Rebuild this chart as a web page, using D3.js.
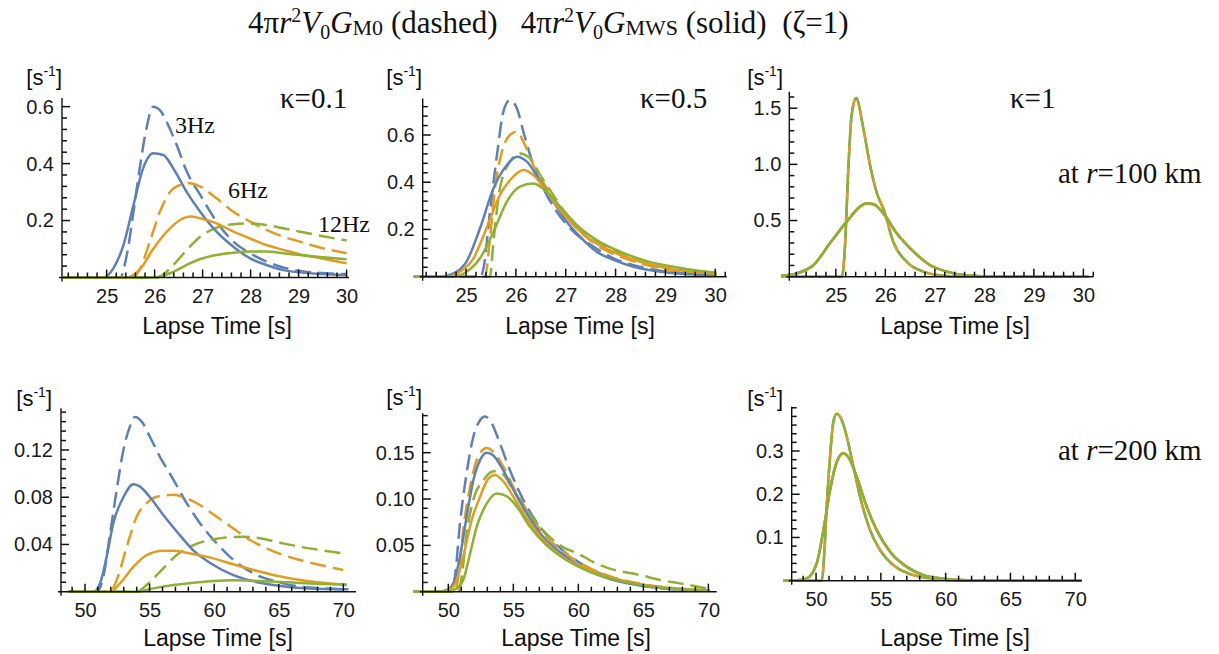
<!DOCTYPE html>
<html lang="en">
<head>
<meta charset="utf-8">
<title>G_M0 vs G_MWS envelopes</title>
<script src="https://d3js.org/d3.v7.min.js"></script>
<style>
  body, html { margin: 0; padding: 0; background: #fff; }
  svg { display: block; }
  .tick text { font: 20px "Liberation Sans", Arial, sans-serif; fill: #1a1a1a; }
  .serif { font-family: "Liberation Serif", "Times New Roman", serif; fill: #111; white-space: pre; }
  .sans { font-family: "Liberation Sans", Arial, sans-serif; fill: #111; }
</style>
</head>
<body>
<svg width="1219" height="654"></svg>
<script>
// ---- data: [lapse time (s), value (1/s)] ----

// kappa = 0.1, r = 100 km
var k01r100_3Hz_M0 = [[24.1,0],[25.28,0],[25.42,0.079],[25.56,0.231],[25.70,0.395],[25.83,0.524],[25.97,0.60],[26.11,0.588],[26.25,0.547],[26.46,0.465],[26.67,0.372],[26.95,0.29],[27.29,0.196],[27.64,0.126],[27.99,0.085],[28.33,0.056],[28.68,0.035],[29.03,0.023],[29.38,0.017],[30.0,0.012]];
var k01r100_3Hz_MWS = [[24.1,0],[24.93,0],[25.14,0.032],[25.35,0.114],[25.56,0.255],[25.76,0.383],[25.97,0.436],[26.18,0.43],[26.39,0.383],[26.67,0.30],[26.95,0.231],[27.29,0.161],[27.64,0.108],[27.99,0.067],[28.33,0.044],[28.68,0.026],[29.03,0.018],[29.38,0.013],[30.0,0.009]];
var k01r100_6Hz_M0 = [[24.1,0],[25.55,0],[25.7,0.032],[25.9,0.126],[26.11,0.231],[26.32,0.30],[26.53,0.325],[26.74,0.331],[26.95,0.319],[27.29,0.278],[27.64,0.231],[27.99,0.196],[28.33,0.167],[28.68,0.143],[29.03,0.126],[29.38,0.108],[30.0,0.085]];
var k01r100_6Hz_MWS = [[24.1,0],[25.42,0],[25.7,0.03],[25.97,0.10],[26.25,0.16],[26.53,0.202],[26.74,0.214],[26.95,0.208],[27.29,0.19],[27.64,0.161],[27.99,0.137],[28.33,0.114],[28.68,0.097],[29.03,0.081],[29.38,0.07],[30.0,0.05]];
var k01r100_12Hz_M0 = [[24.1,0],[26.04,0],[26.39,0.044],[26.67,0.097],[26.95,0.143],[27.29,0.175],[27.64,0.187],[27.99,0.19],[28.33,0.184],[28.68,0.173],[29.03,0.161],[29.38,0.149],[30.0,0.13]];
var k01r100_12Hz_MWS = [[24.1,0],[26.0,0],[26.39,0.02],[26.67,0.044],[26.95,0.065],[27.29,0.079],[27.64,0.087],[27.99,0.091],[28.33,0.091],[28.68,0.085],[29.03,0.079],[29.38,0.073],[30.0,0.064]];

// kappa = 0.5, r = 100 km
var k05r100_3Hz_M0 = [[23.95,0],[25.28,0],[25.35,0.035],[25.48,0.275],[25.62,0.515],[25.75,0.70],[25.88,0.748],[26.02,0.713],[26.15,0.614],[26.35,0.473],[26.55,0.374],[26.82,0.275],[27.16,0.19],[27.56,0.127],[27.96,0.078],[28.49,0.042],[29.03,0.021],[29.56,0.01],[30.03,0.004]];
var k05r100_3Hz_MWS = [[23.95,0],[24.48,0],[24.75,0.014],[25.01,0.064],[25.28,0.205],[25.55,0.374],[25.82,0.473],[26.02,0.508],[26.22,0.487],[26.49,0.402],[26.75,0.318],[27.02,0.233],[27.29,0.169],[27.62,0.106],[27.96,0.071],[28.36,0.042],[28.9,0.021],[29.5,0.01],[30.03,0.004]];
var k05r100_6Hz_M0 = [[23.95,0],[25.38,0],[25.48,0.162],[25.58,0.374],[25.72,0.53],[25.88,0.60],[26.02,0.614],[26.15,0.572],[26.35,0.473],[26.62,0.374],[26.89,0.29],[27.22,0.205],[27.62,0.134],[28.09,0.085],[28.63,0.049],[29.16,0.024],[29.7,0.013],[30.03,0.007]];
var k05r100_6Hz_MWS = [[23.95,0],[24.61,0],[24.88,0.021],[25.15,0.078],[25.41,0.205],[25.68,0.346],[25.95,0.424],[26.15,0.452],[26.35,0.43],[26.62,0.36],[26.89,0.282],[27.22,0.205],[27.62,0.141],[28.09,0.092],[28.63,0.056],[29.16,0.031],[29.7,0.018],[30.03,0.011]];
var k05r100_12Hz_M0 = [[23.95,0],[25.48,0],[25.55,0.148],[25.68,0.374],[25.88,0.487],[26.08,0.522],[26.29,0.50],[26.49,0.43],[26.75,0.346],[27.02,0.261],[27.36,0.19],[27.76,0.134],[28.23,0.085],[28.76,0.049],[29.3,0.028],[29.83,0.014],[30.03,0.01]];
var k05r100_12Hz_MWS = [[23.95,0],[24.75,0],[25.01,0.021],[25.28,0.078],[25.55,0.19],[25.82,0.318],[26.08,0.381],[26.35,0.395],[26.62,0.36],[26.89,0.296],[27.22,0.219],[27.62,0.155],[28.09,0.106],[28.63,0.066],[29.16,0.042],[29.7,0.024],[30.03,0.017]];

// kappa = 1, r = 100 km (all three frequencies coincide)
var k1r100_M0 = [[23.9,0],[25.12,0],[25.19,0.31],[25.25,0.94],[25.32,1.44],[25.41,1.59],[25.56,1.31],[25.69,0.995],[25.82,0.757],[25.98,0.58],[26.16,0.31],[26.43,0.134],[26.77,0.045],[27.17,0.009],[27.58,0],[30.1,0]];
var k1r100_MWS = [[23.9,0.01],[24.21,0.03],[24.55,0.104],[24.88,0.297],[25.22,0.49],[25.49,0.624],[25.62,0.653],[25.76,0.645],[25.96,0.564],[26.23,0.386],[26.57,0.223],[26.9,0.104],[27.24,0.045],[27.58,0.015],[28.25,0],[30.1,0]];

// kappa = 0.1, r = 200 km
var k01r200_3Hz_M0 = [[48.7,0],[50.9,0],[51.42,0.0127],[51.94,0.049],[52.45,0.086],[52.97,0.12],[53.48,0.14],[53.87,0.148],[54.39,0.144],[55.03,0.131],[55.81,0.114],[56.84,0.095],[57.87,0.075],[58.9,0.058],[60.19,0.041],[61.48,0.027],[63.03,0.0155],[64.84,0.0085],[66.65,0.0042],[68.45,0.0028],[70.4,0.002]];
var k01r200_3Hz_MWS = [[48.7,0],[50.65,0],[51.16,0.007],[51.68,0.03],[52.19,0.058],[52.97,0.08],[53.74,0.091],[54.26,0.089],[55.03,0.08],[56.06,0.065],[57.1,0.051],[58.39,0.035],[59.94,0.0226],[61.48,0.014],[63.55,0.0076],[65.61,0.0042],[67.94,0.0025],[70.4,0.002]];
var k01r200_6Hz_M0 = [[48.7,0],[51.94,0],[52.45,0.01],[53.23,0.038],[54.0,0.0635],[54.77,0.075],[55.81,0.081],[56.84,0.082],[57.87,0.079],[58.9,0.0734],[60.19,0.0635],[61.48,0.0536],[62.77,0.0438],[64.06,0.0367],[65.35,0.031],[66.65,0.0268],[68.19,0.0226],[70.0,0.0184]];
var k01r200_6Hz_MWS = [[48.7,0],[51.94,0],[52.71,0.007],[53.74,0.021],[54.77,0.031],[56.06,0.0347],[56.84,0.0347],[57.87,0.033],[59.94,0.0282],[61.48,0.0232],[63.03,0.0184],[64.84,0.0135],[66.65,0.0099],[68.45,0.0075],[70.26,0.0056]];
var k01r200_12Hz_M0 = [[48.7,0],[54.0,0],[54.77,0.0056],[55.81,0.017],[57.1,0.031],[58.39,0.0395],[59.68,0.0438],[60.97,0.046],[62.26,0.0466],[63.55,0.0452],[65.1,0.0415],[66.65,0.038],[68.19,0.0353],[70.26,0.032]];
var k01r200_12Hz_MWS = [[48.7,0],[54.0,0],[55.29,0.0028],[56.84,0.0056],[58.39,0.0076],[59.94,0.009],[61.48,0.0096],[63.03,0.0093],[64.84,0.0085],[66.65,0.0073],[68.45,0.0065],[70.26,0.006]];

// kappa = 0.5, r = 200 km
var k05r200_3Hz_M0 = [[47.3,0],[50.26,0],[50.51,0.016],[50.9,0.074],[51.41,0.128],[51.92,0.167],[52.44,0.185],[52.82,0.189],[53.33,0.182],[53.97,0.16],[54.74,0.131],[55.77,0.099],[57.05,0.07],[58.59,0.047],[60.13,0.031],[62.18,0.017],[64.23,0.0085],[66.54,0.0035],[68.85,0.0015],[70.13,0.001]];
var k05r200_3Hz_MWS = [[47.3,0],[49.1,0],[49.87,0.0018],[50.38,0.009],[50.9,0.038],[51.41,0.081],[51.92,0.12],[52.44,0.142],[52.95,0.15],[53.46,0.147],[54.23,0.131],[55.0,0.11],[56.03,0.0845],[57.31,0.059],[58.85,0.04],[60.64,0.0234],[62.69,0.0126],[65.0,0.0061],[67.31,0.0029],[70.13,0.001]];
var k05r200_6Hz_M0 = [[47.3,0],[50.51,0],[50.77,0.016],[51.15,0.067],[51.67,0.113],[52.31,0.146],[52.95,0.155],[53.59,0.149],[54.23,0.135],[55.0,0.113],[56.03,0.088],[57.31,0.063],[58.85,0.043],[60.64,0.027],[62.69,0.0155],[64.74,0.0085],[67.05,0.0043],[70.13,0.0016]];
var k05r200_6Hz_MWS = [[47.3,0],[49.36,0],[50.13,0.0025],[50.64,0.0126],[51.15,0.038],[51.79,0.077],[52.44,0.1025],[53.08,0.122],[53.59,0.126],[54.23,0.119],[55.0,0.1025],[56.03,0.079],[57.31,0.056],[58.85,0.037],[60.64,0.025],[62.69,0.0145],[65.0,0.0075],[67.31,0.0035],[70.13,0.0014]];
var k05r200_12Hz_M0 = [[47.3,0],[50.77,0],[51.03,0.016],[51.41,0.063],[51.92,0.099],[52.69,0.12],[53.46,0.13],[54.1,0.128],[54.87,0.113],[55.77,0.0935],[57.05,0.07],[58.59,0.05],[60.13,0.04],[61.15,0.032],[62.18,0.026],[64.74,0.018],[66.54,0.012],[67.8,0.009],[69.6,0.0043],[70.13,0.003]];
var k05r200_12Hz_MWS = [[47.3,0],[49.87,0],[50.64,0.0036],[51.15,0.0126],[51.67,0.041],[52.18,0.07],[52.95,0.095],[53.72,0.106],[54.49,0.103],[55.26,0.092],[56.28,0.07],[57.56,0.05],[59.1,0.034],[60.9,0.0215],[62.95,0.0125],[65.26,0.0065],[67.56,0.003],[70.13,0.0014]];

// kappa = 1, r = 200 km (all three frequencies coincide)
var k1r200_M0 = [[47.5,0],[50.44,0],[50.62,0.056],[50.82,0.171],[51.08,0.287],[51.34,0.368],[51.6,0.386],[51.98,0.372],[52.37,0.333],[52.88,0.264],[53.4,0.194],[54.17,0.117],[54.94,0.071],[55.97,0.036],[57.26,0.0154],[58.8,0.0054],[60.35,0.0015],[61.9,0],[70.5,0]];
var k1r200_MWS = [[47.5,0],[48.5,0.001],[49.28,0.0054],[50.05,0.04],[50.57,0.117],[51.08,0.21],[51.6,0.275],[52.11,0.295],[52.63,0.279],[53.14,0.24],[53.91,0.171],[54.68,0.117],[55.71,0.067],[57.0,0.032],[58.29,0.013],[59.83,0.0046],[61.89,0.0008],[63.5,0],[70.5,0]];

// tick labels
var xTicks100 = [25, 26, 27, 28, 29, 30];
var xTicks200 = [50, 55, 60, 65, 70];
var yTicksK01r100 = [0.2, 0.4, 0.6];
var yTicksK05r100 = [0.2, 0.4, 0.6];
var yTicksK1r100 = [0.5, 1.0, 1.5];
var yTicksK01r200 = [0.04, 0.08, 0.12];
var yTicksK05r200 = [0.05, 0.10, 0.15];
var yTicksK1r200 = [0.1, 0.2, 0.3];

var blue = "#5E81B5", orange = "#E19C24", green = "#8FB032";

function six(b3d, b3s, o6d, o6s, g12d, g12s) {
    return [
        {data: b3d, color: blue, dash: true, off: 0},
        {data: o6d, color: orange, dash: true, off: 0},
        {data: g12d, color: green, dash: true, off: 0},
        {data: b3s, color: blue},
        {data: o6s, color: orange},
        {data: g12s, color: green}
    ];
}
function same(d, s) {
    return [
        {data: d, color: blue, dash: true, off: 0},
        {data: d, color: orange, dash: true, off: 8},
        {data: d, color: green, dash: true, off: 15},
        {data: s, color: blue},
        {data: s, color: orange},
        {data: s, color: green}
    ];
}

var panels = [
    {xd: [24.07, 30.05], xr: [62, 349], yd: [0, 0.63], yr: [277.5, 98.1], xt: xTicks100, xm: 0.2,
     yt: yTicksK01r100, ym: 0.04, yf: ".1f", unit: [62, 85], title: [217, 334],
     curves: six(k01r100_3Hz_M0, k01r100_3Hz_MWS, k01r100_6Hz_M0, k01r100_6Hz_MWS, k01r100_12Hz_M0, k01r100_12Hz_MWS)},
    {xd: [24.13, 30.23], xr: [422.7, 726.7], yd: [0, 0.755], yr: [276.7, 98.4], xt: xTicks100, xm: 0.2,
     yt: yTicksK05r100, ym: 0.04, yf: ".1f", unit: [422, 85], title: [580, 334],
     curves: six(k05r100_3Hz_M0, k05r100_3Hz_MWS, k05r100_6Hz_M0, k05r100_6Hz_MWS, k05r100_12Hz_M0, k05r100_12Hz_MWS)},
    {xd: [24.06, 30.2], xr: [789.3, 1093.3], yd: [0, 1.647], yr: [276.7, 91.7], xt: xTicks100, xm: 0.2,
     yt: yTicksK1r100, ym: 0.1, yf: ".1f", unit: [783, 85], title: [955, 334],
     curves: same(k1r100_M0, k1r100_MWS)},
    {xd: [48.14, 70.98], xr: [61, 356], yd: [0, 0.1553], yr: [591.7, 408.3], xt: xTicks200, xm: 1,
     yt: yTicksK01r200, ym: 0.008, yf: ".2f", unit: [52, 406], title: [218, 646],
     curves: six(k01r200_3Hz_M0, k01r200_3Hz_MWS, k01r200_6Hz_M0, k01r200_6Hz_MWS, k01r200_12Hz_M0, k01r200_12Hz_MWS)},
    {xd: [48.03, 70.64], xr: [422.7, 716.7], yd: [0, 0.1925], yr: [591.7, 413.3], xt: xTicks200, xm: 1,
     yt: yTicksK05r200, ym: 0.01, yf: ".2f", unit: [422, 405], title: [576, 646],
     curves: six(k05r200_3Hz_M0, k05r200_3Hz_MWS, k05r200_6Hz_M0, k05r200_6Hz_MWS, k05r200_12Hz_M0, k05r200_12Hz_MWS)},
    {xd: [48.12, 70.5], xr: [791.7, 1081.7], yd: [0, 0.4025], yr: [580.7, 406.7], xt: xTicks200, xm: 1,
     yt: yTicksK1r200, ym: 0.02, yf: ".1f", unit: [783, 406], title: [955, 646],
     curves: same(k1r200_M0, k1r200_MWS)}
];

var svg = d3.select("svg");
svg.append("rect").attr("width", 1219).attr("height", 654).attr("fill", "#fff");

function minorTicks(domain, step) {
    var a = Math.ceil(domain[0] / step - 1e-9), b = Math.floor(domain[1] / step + 1e-9);
    return d3.range(a, b + 1).map(function (i) { return +(i * step).toFixed(6); });
}

panels.forEach(function (p) {
    var x = d3.scaleLinear().domain(p.xd).range(p.xr);
    var y = d3.scaleLinear().domain(p.yd).range(p.yr);
    var g = svg.append("g");
    var y0 = y(0), x0 = p.xr[0];

    // curves
    var line = d3.line()
        .x(function (d) { return x(d[0]); })
        .y(function (d) { return y(d[1]); })
        .curve(d3.curveMonotoneX);

    p.curves.forEach(function (c) {
        var path = g.append("path")
            .attr("d", line(c.data))
            .attr("fill", "none")
            .attr("stroke", c.color)
            .attr("stroke-width", 2.5)
            .attr("stroke-linejoin", "round");
        if (c.dash) path.attr("stroke-dasharray", "16,7").attr("stroke-dashoffset", c.off);
    });

    // axis lines
    g.append("line").attr("stroke", "#111").attr("stroke-width", 1.4)
        .attr("x1", x0 - 3).attr("x2", p.xr[1]).attr("y1", y0).attr("y2", y0);
    g.append("line").attr("stroke", "#111").attr("stroke-width", 1.4)
        .attr("x1", x0).attr("x2", x0).attr("y1", y0 + 4).attr("y2", p.yr[1]);

    // tick marks (drawn inward, Mathematica style), on top of the curves
    var xMinor = minorTicks(p.xd, p.xm);
    var yMinor = minorTicks(p.yd, p.ym).filter(function (v) { return v > 0; });
    g.selectAll("line.xt").data(xMinor).enter().append("line")
        .attr("stroke", "#111").attr("stroke-width", 1.5)
        .attr("x1", function (d) { return x(d); }).attr("x2", function (d) { return x(d); })
        .attr("y1", y0).attr("y2", function (d) { return p.xt.indexOf(d) >= 0 ? y0 - 8 : y0 - 5; });
    g.selectAll("line.yt").data(yMinor).enter().append("line")
        .attr("stroke", "#111").attr("stroke-width", 1.5)
        .attr("y1", function (d) { return y(d); }).attr("y2", function (d) { return y(d); })
        .attr("x1", x0).attr("x2", function (d) {
            var major = p.yt.some(function (v) { return Math.abs(v - d) < 1e-6; });
            return major ? x0 + 8 : x0 + 5;
        });

    // tick labels through d3 axes
    g.append("g").attr("transform", "translate(0," + y0 + ")")
        .call(d3.axisBottom(x).tickValues(p.xt).tickSize(0).tickPadding(11).tickFormat(d3.format("d")))
        .call(function (s) { s.select(".domain").remove(); s.selectAll(".tick line").remove(); });
    g.append("g").attr("transform", "translate(" + x0 + ",0)")
        .call(d3.axisLeft(y).tickValues(p.yt).tickSize(0).tickPadding(8).tickFormat(d3.format(p.yf)))
        .call(function (s) { s.select(".domain").remove(); s.selectAll(".tick line").remove(); });

    // unit label [s^-1]
    var u = g.append("text").attr("class", "sans").attr("x", p.unit[0]).attr("y", p.unit[1])
        .attr("text-anchor", "end").attr("font-size", 22);
    u.append("tspan").text("[s");
    u.append("tspan").attr("font-size", 14).attr("dy", -9).text("-1");
    u.append("tspan").attr("dy", 9).text("]");

    // x axis title
    g.append("text").attr("class", "sans").attr("x", p.title[0]).attr("y", p.title[1])
        .attr("text-anchor", "middle").attr("font-size", 23).text("Lapse Time [s]");
});

// annotations
function serifText(x, y, size) {
    return svg.append("text").attr("class", "serif").attr("x", x).attr("y", y).attr("font-size", size);
}
serifText(280, 108, 29).text("\u03ba=0.1");
serifText(640, 108, 29).text("\u03ba=0.5");
serifText(1010, 108, 29).text("\u03ba=1");
serifText(175, 133, 24).text("3Hz");
serifText(228, 198, 24).text("6Hz");
serifText(318, 232, 24).text("12Hz");

var r1 = serifText(1058, 183, 29);
r1.append("tspan").text("at ");
r1.append("tspan").attr("font-style", "italic").text("r");
r1.append("tspan").text("=100 km");
var r2 = serifText(1058, 460, 29);
r2.append("tspan").text("at ");
r2.append("tspan").attr("font-style", "italic").text("r");
r2.append("tspan").text("=200 km");

// title
var t = serifText(248, 33, 31);
function gTerm(sub, tail) {
    t.append("tspan").text("4\u03c0");
    t.append("tspan").attr("font-style", "italic").text("r");
    t.append("tspan").attr("font-size", 20).attr("dy", -11).text("2");
    t.append("tspan").attr("font-style", "italic").attr("dy", 11).text("V");
    t.append("tspan").attr("font-size", 20).attr("dy", 6).text("0");
    t.append("tspan").attr("font-style", "italic").attr("dy", -6).text("G");
    t.append("tspan").attr("font-size", 22).attr("dy", 2).text(sub);
    t.append("tspan").attr("dy", -2).text(tail);
}
gTerm("M0", " (dashed)   ");
gTerm("MWS", " (solid)  (\u03b6=1)");
</script>
</body>
</html>
